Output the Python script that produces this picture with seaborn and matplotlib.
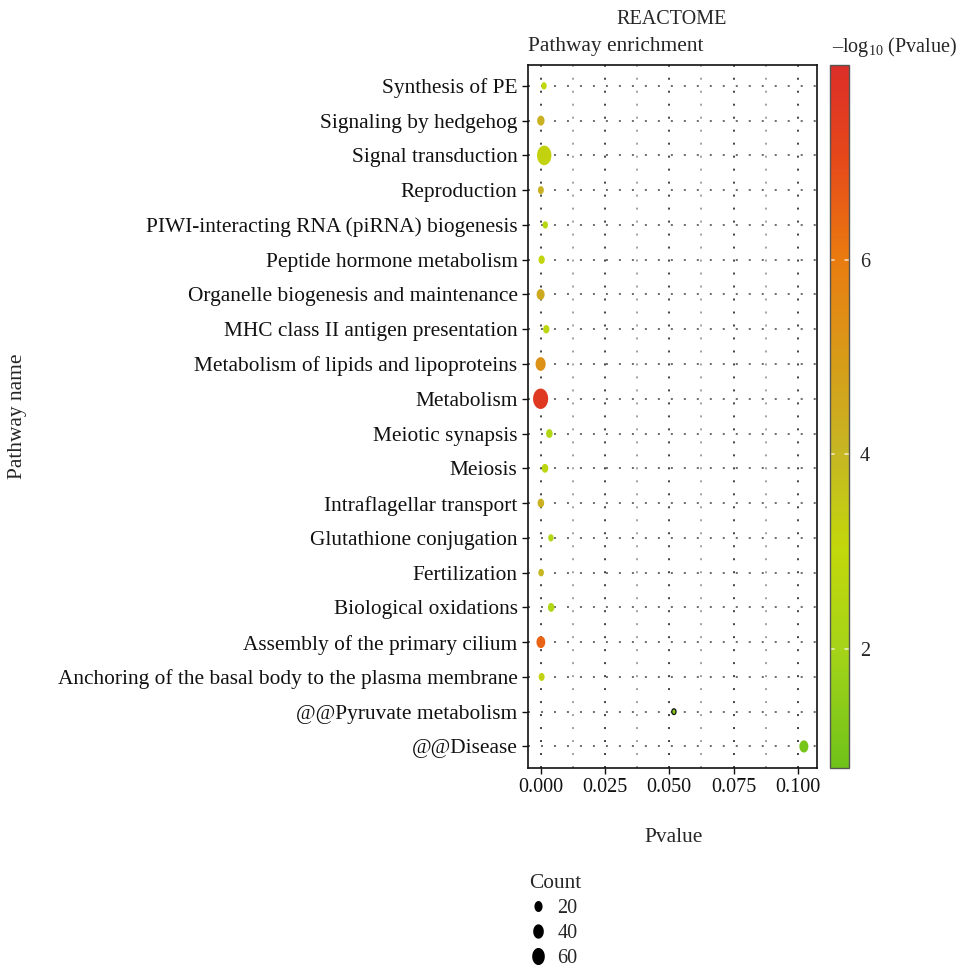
import numpy as np
import pandas as pd
import matplotlib
matplotlib.use("Agg")
import matplotlib.pyplot as plt
import seaborn as sns
from matplotlib.path import Path
from matplotlib.colors import LinearSegmentedColormap, Normalize
from matplotlib.cm import ScalarMappable
from matplotlib.lines import Line2D

# ---------------- data ----------------
pathways = [
    "Synthesis of PE", "Signaling by hedgehog", "Signal transduction", "Reproduction",
    "PIWI-interacting RNA (piRNA) biogenesis", "Peptide hormone metabolism",
    "Organelle biogenesis and maintenance", "MHC class II antigen presentation",
    "Metabolism of lipids and lipoproteins", "Metabolism", "Meiotic synapsis", "Meiosis",
    "Intraflagellar transport", "Glutathione conjugation", "Fertilization",
    "Biological oxidations", "Assembly of the primary cilium",
    "Anchoring of the basal body to the plasma membrane",
    "@@Pyruvate metabolism", "@@Disease",
]
pvalues = [0.0013, 0.0001, 0.0014, 0.0001, 0.0018, 0.0004, 0.0000, 0.0022,
           0.0000, 0.0000, 0.0034, 0.0017, 0.0001, 0.0040, 0.0002,
           0.0041, 0.0001, 0.0004, 0.0518, 0.1023]
neglog10 = [3.0, 4.2, 3.2, 4.2, 2.7, 3.1, 4.5, 2.8,
            5.3, 7.6, 2.4, 2.8, 4.2, 2.4, 4.0,
            2.4, 6.5, 3.2, 1.3, 1.0]
counts = [7, 20, 100, 10, 7, 12, 25, 12,
          45, 110, 14, 14, 14, 7, 8,
          14, 32, 10, 1, 34]
legend_counts = [20, 40, 60]
x_ticks = [0.000, 0.025, 0.050, 0.075, 0.100]
cbar_ticks = [2, 4, 6]

df = pd.DataFrame({"Pathway": pathways, "Pvalue": pvalues,
                   "neglog": neglog10, "Count": counts})

# ---------------- style ----------------
sns.set_theme(style="white")
plt.rcParams["font.family"] = ["Liberation Serif", "DejaVu Serif"]
plt.rcParams["mathtext.fontset"] = "custom"
plt.rcParams["mathtext.rm"] = "Liberation Serif"
plt.rcParams["mathtext.it"] = "Liberation Serif:italic"
FS_TXT = 15.4
FS_NUM = 14.5

cmap = LinearSegmentedColormap.from_list("pv", [
    (0.00, "#6fc21a"), (0.17, "#a6d418"), (0.31, "#c2d80a"), (0.45, "#c6b624"),
    (0.59, "#d89a18"), (0.73, "#ea7a10"), (0.87, "#e5481a"), (1.00, "#dc2e28")])
vmin, vmax = 0.78, 8.0
norm = Normalize(vmin, vmax)

# vertically stretched ellipse marker
t = np.linspace(0, 2 * np.pi, 60)
verts = np.column_stack([0.74 * np.cos(t), np.sin(t)])
ell = Path(verts, closed=True)

W, H = 963, 974
fig = plt.figure(figsize=(W / 100, H / 100), dpi=100)
ax = fig.add_axes([528 / W, 1 - 768 / H, 289 / W, 703 / H])

# grid
for xv in np.arange(0, 0.101, 0.025):
    ax.axvline(xv, color="#111111", lw=1.1, ls=(0, (1.3, 7.2)), zorder=0)
for xv in np.arange(0.0125, 0.1, 0.025):
    ax.axvline(xv, color="#888888", lw=1.1, ls=(0, (1.3, 7.2)), zorder=0)
for i in range(len(pathways)):
    ax.axhline(i, color="#444444", lw=1.1, ls=(0, (1.3, 7.2)), zorder=0)

size_norm = (0, 115)
sizes = (15, 225)
sns.scatterplot(data=df, x="Pvalue", y="Pathway", hue="neglog", palette=cmap,
                hue_norm=norm, size="Count", sizes=sizes, size_norm=size_norm,
                marker=ell, linewidth=0, legend=False, ax=ax, zorder=3)
coll = ax.collections[-1]
ec = ["#111111" if 0.05 < p < 0.08 else "none" for p in pvalues]
coll.set_edgecolor(ec)
coll.set_linewidth(0.9)

ax.set_ylim(len(pathways) - 1 + 0.62, -0.6)
ax.set_xlim(-0.0049, 0.1074)
ax.set_xticks(x_ticks)
ax.set_xticklabels([f"{v:.3f}" for v in x_ticks])
ax.set_xlabel("")
ax.set_ylabel("")
ax.tick_params(axis="both", colors="#111111", direction="out",
               length=4, width=1, left=True, bottom=True)
ax.tick_params(axis="x", labelsize=FS_NUM)
ax.tick_params(axis="y", labelsize=FS_TXT)
for s in ax.spines.values():
    s.set_color("#111111")
    s.set_linewidth(1.2)

# colorbar
cax = fig.add_axes([830 / W, 1 - 768 / H, 19 / W, 703 / H])
sm = ScalarMappable(norm=norm, cmap=cmap)
cb = fig.colorbar(sm, cax=cax, ticks=cbar_ticks)
cb.outline.set_edgecolor("#555555")
cb.outline.set_linewidth(1.0)
cax.tick_params(labelsize=FS_NUM, length=0, pad=8)
for tv in cbar_ticks:
    cax.plot([0.0, 0.2], [tv, tv], color="white", alpha=0.7, lw=1.2,
             transform=cax.get_yaxis_transform())
    cax.plot([0.8, 1.0], [tv, tv], color="white", alpha=0.7, lw=1.2,
             transform=cax.get_yaxis_transform())

# texts
fig.text(672 / W, 1 - 20 / H, "REACTOME", ha="center", va="center", fontsize=FS_NUM)
fig.text(528 / W, 1 - 47 / H, "Pathway enrichment", ha="left", va="center", fontsize=FS_TXT)
fig.text(832 / W, 1 - 47 / H, "–log$_{10}$ (Pvalue)", ha="left", va="center", fontsize=FS_NUM)
fig.text(18 / W, 1 - 416 / H, "Pathway name", ha="center", va="center",
         rotation=90, fontsize=FS_TXT)
fig.text(674 / W, 1 - 838 / H, "Pvalue", ha="center", va="center", fontsize=FS_TXT)

# size legend
def count_to_s(c):
    return sizes[0] + (sizes[1] - sizes[0]) * (c - size_norm[0]) / (size_norm[1] - size_norm[0])

handles = [Line2D([], [], ls="none", marker=ell, color="black",
                  markersize=np.sqrt(count_to_s(c)) * 1.1, markeredgewidth=0)
           for c in legend_counts]
fig.legend(handles, [str(c) for c in legend_counts], title="Count",
           loc="upper left", bbox_to_anchor=(521 / W, 1 - 866 / H),
           frameon=False, fontsize=FS_NUM, title_fontsize=FS_TXT,
           handlelength=0.9, handletextpad=0.5, labelspacing=0.3,
           alignment="left", borderaxespad=0)

fig.savefig("out.png", dpi=100)
